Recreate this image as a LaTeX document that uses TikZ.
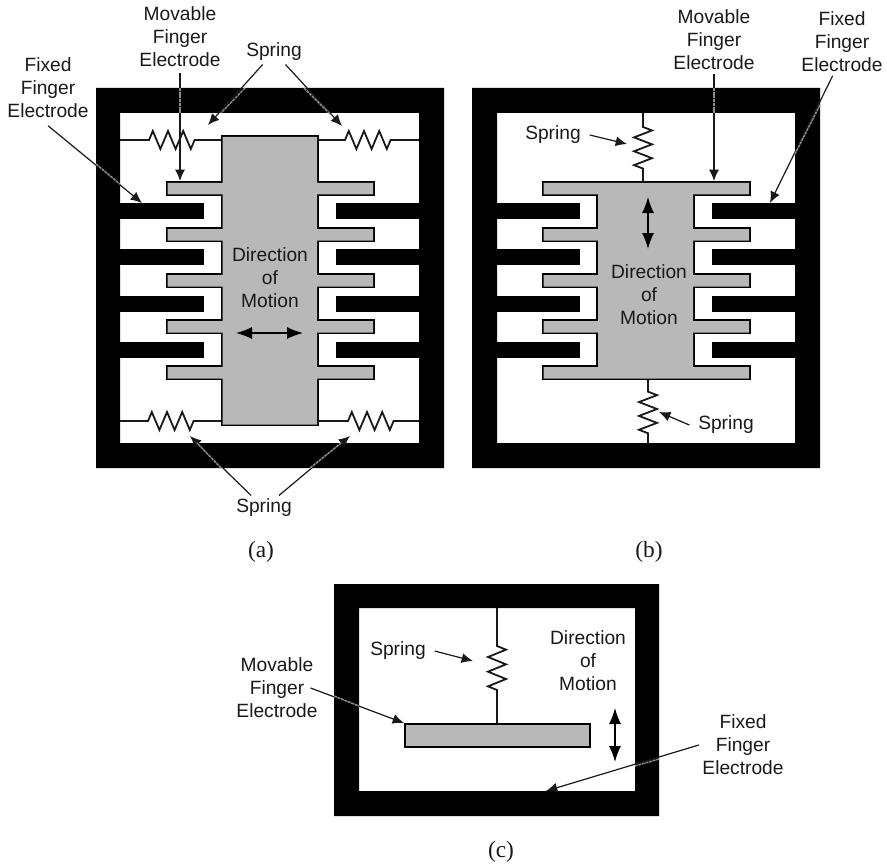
\documentclass[tikz,border=0pt]{standalone}
\usepackage{fontspec}
\setmainfont{Liberation Sans}
\newfontfamily\capfont{Liberation Serif}
\usetikzlibrary{calc, arrows.meta, decorations.pathmorphing}

\begin{document}
\begin{tikzpicture}[
    x=0.75pt, y=-0.75pt,
    >=latex,
    frame/.style={fill=black, even odd rule},
    fixedf/.style={fill=black},
    comb/.style={fill=black!28, preaction={draw=black, line width=2.8pt}},
    wire/.style={line width=1.35pt, black!90},
    spring/.style 2 args={wire, decorate, decoration={zigzag, amplitude=6.75pt, segment length=11.4pt, pre length=#1, post length=#2}},
    lbl/.style={align=center, inner sep=2.5pt, text=black!90, font=\fontsize{14.4pt}{17.3pt}\selectfont},
    panellbl/.style={inner sep=1pt, text=black!90, font=\capfont\fontsize{17.5pt}{20pt}\selectfont},
    lead/.style={-{Latex[length=8.5pt, width=7.5pt]}, line width=0.9pt, black!90},
    motion/.style={{Latex[length=12pt, width=9pt]}-{Latex[length=12pt, width=9pt]}, line width=1pt},
    thru/.style={line width=1.1pt, black!45, dash pattern=on 2.2pt off 0.6pt},
]

\useasboundingbox (0,0) rectangle (887,866);

% ─── Panel (a): frame, fixed fingers, movable comb ───
\path[frame] (96,88) rectangle (444,468) (120,113) rectangle (419,443);
\foreach \y in {203,249,296,342} {
    \path[fixedf] (120,\y) rectangle (204,\y+16);
    \path[fixedf] (336,\y) rectangle (419,\y+16);
}
\path[comb] (222.5,137) rectangle (317,424.5)
    \foreach \y in {183,229,275,321,367} { (167.5,\y) rectangle (373,\y+11.5) };

% Springs (a)
\draw[spring={21.75pt}{19.5pt}]  (120,140) -- (221,140);
\draw[spring={20.25pt}{20.25pt}] (318,140) -- (419,140);
\draw[spring={21pt}{20.25pt}]    (120,421) -- (221,421);
\draw[spring={22.5pt}{18.75pt}]  (318,421) -- (419,421);

% ─── Panel (b) ───
\path[frame] (472,88) rectangle (820,468) (497,113) rectangle (795,443);
\foreach \y in {203,249,296,342} {
    \path[fixedf] (497,\y) rectangle (580,\y+16);
    \path[fixedf] (712,\y) rectangle (795,\y+16);
}
\path[comb] (598,183) rectangle (693,378)
    \foreach \y in {183,229,275,321,367} { (543.5,\y) rectangle (749,\y+11.5) };

\draw[spring={10.5pt}{9pt}, decoration={segment length=10.4pt}]  (643,113) -- (643,181);
\draw[spring={9.5pt}{7pt}, decoration={segment length=10.4pt}]   (648,379) -- (648,443);

% ─── Panel (c) ───
\path[frame] (334,584) rectangle (659,816) (359,608) rectangle (635,791);
\draw[spring={28.5pt}{24.5pt}, decoration={segment length=11pt}] (497,608) -- (497,723);
\path[comb] (405.5,724.5) rectangle (589,746);

% ─── Labels (a) ───
\node[lbl] at (180,37)  (moveA)    {Movable\\Finger\\Electrode};
\node[lbl] at (48,88)   (fixA)     {Fixed\\Finger\\Electrode};
\node[lbl] at (274,52)  (springA)  {Spring};
\node[lbl] at (264,508) (springAb) {Spring};
\node[lbl] at (270,278) (dirA)     {Direction\\of\\Motion};
\node[panellbl] at (261,552) (capA) {(a)};

% ─── Labels (b) ───
\node[lbl] at (714,40)  (moveB)    {Movable\\Finger\\Electrode};
\node[lbl] at (842,42)  (fixB)     {Fixed\\Finger\\Electrode};
\node[lbl] at (553,135) (springB)  {Spring};
\node[lbl] at (726,425) (springBb) {Spring};
\node[lbl] at (649,295) (dirB)     {Direction\\of\\Motion};
\node[panellbl] at (649,552) (capB) {(b)};

% ─── Labels (c) ───
\node[lbl] at (277,688) (moveC)    {Movable\\Finger\\Electrode};
\node[lbl] at (743,745) (fixC)     {Fixed\\Finger\\Electrode};
\node[lbl] at (398,651) (springC)  {Spring};
\node[lbl] at (588,661) (dirC)     {Direction\\of\\Motion};
\node[panellbl] at (501,852) (capC) {(c)};

% ─── Arrow tips ───
\coordinate (tipMoveA)  at (180,181);
\coordinate (tipFixA)   at (142,203);
\coordinate (tipSprL)   at (208,125);
\coordinate (tipSprR)   at (342,126);
\coordinate (tipSprBL)  at (190,436);
\coordinate (tipSprBR)  at (350,436);
\coordinate (tipMoveB)  at (714,181);
\coordinate (tipFixB)   at (770,203);
\coordinate (tipSprB)   at (627,144);
\coordinate (tipSprBb)  at (659,412);
\coordinate (tipMoveC)  at (404,723);
\coordinate (tipFixC)   at (546,791);
\coordinate (tipSprC)   at (473,661);

% ─── Leaders ───
\draw[lead] ([yshift=-2pt]moveA.south)   -- (tipMoveA);
\draw[lead] ([yshift=-3pt]fixA.south)    -- (tipFixA);
\draw[lead] (springA)                    -- (tipSprL);
\draw[lead] (springA)                    -- (tipSprR);
\draw[lead] (springAb)                   -- (tipSprBL);
\draw[lead] (springAb)                   -- (tipSprBR);
\draw[lead] (moveB.south)                -- (tipMoveB);
\draw[lead] ([xshift=-7pt]fixB.south)    -- (tipFixB);
\draw[lead] ([xshift=4pt]springB.east)   -- (tipSprB);
\draw[lead] ([xshift=-4pt]springBb.west) -- (tipSprBb);
\draw[lead] ([xshift=-8pt]moveC.east)    -- (tipMoveC);
\draw[lead] (fixC.west)                  -- (tipFixC);
\draw[lead] ([xshift=4pt]springC.east)   -- (tipSprC);

% Where a leader runs over the black frame it shows grey
\foreach \xa/\ya/\xb/\yb in {245/88/221/113, 304/88/329/113, 180/88/180/113, 96/164/120/184,
    221/468/197/443, 310/468/341/443, 714/88/714/113, 820/105/795/154, 334/696/359/706, 659/759/635/766} {
    \draw[thru] (\xa,\ya) -- (\xb,\yb);
}

% ─── Direction of motion ───
\coordinate (motAl) at (236,333);
\coordinate (motAr) at (303,333);
\coordinate (motBt) at (648,197);
\coordinate (motBb) at (648,249);
\coordinate (motCt) at (615,708);
\coordinate (motCb) at (615,762);
\draw[motion] (motAl) -- (motAr);
\draw[motion] (motBt) -- (motBb);
\draw[motion] (motCt) -- (motCb);

\end{tikzpicture}
\end{document}
